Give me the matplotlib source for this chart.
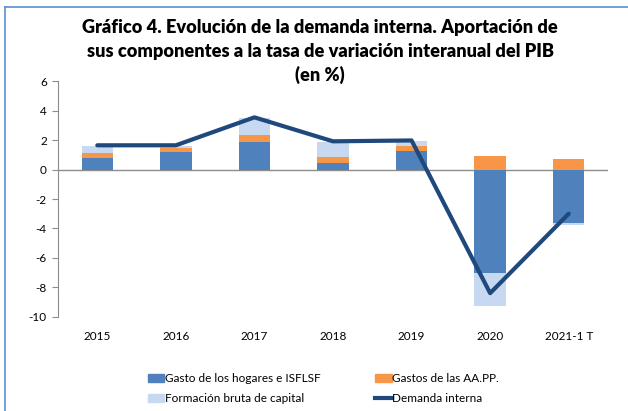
"""
Gráfico 4: aportación de los componentes de la demanda interna al PIB.
"""

import matplotlib.pyplot as plt
import numpy as np
from matplotlib.lines import Line2D
from matplotlib.patches import Patch

plt.rcParams["font.family"] = ["Lato", "DejaVu Sans"]
plt.rcParams["axes.unicode_minus"] = False

years = ["2015", "2016", "2017", "2018", "2019", "2020", "2021-1 T"]
hogares = [0.82, 1.20, 1.88, 0.43, 1.24, -7.03, -3.60]
aapp = [0.29, 0.30, 0.45, 0.41, 0.36, 0.90, 0.75]
fbc = [0.52, 0.13, 1.18, 1.04, 0.35, -2.27, -0.14]
demanda = [1.65, 1.65, 3.55, 1.92, 1.98, -8.40, -3.00]

c_blue = "#4F81BD"
c_orange = "#F79646"
c_light = "#C6D9F1"
c_line = "#1F497D"
c_grid = "#8C8C8C"

fig = plt.figure(figsize=(6.28, 4.11), dpi=100)
ax = fig.add_axes([58 / 628, 1 - 316.7 / 411, 550 / 628, 235.4 / 411])

x = np.arange(len(years))
w = 0.4

# stack positives and negatives separately, as the spreadsheet does
pos = np.zeros(len(years))
neg = np.zeros(len(years))
for vals, col in [(hogares, c_blue), (aapp, c_orange), (fbc, c_light)]:
    vals = np.array(vals)
    base = np.where(vals >= 0, pos, neg)
    ax.bar(x, vals, w, bottom=base, color=col, edgecolor="none", zorder=2)
    pos = pos + np.where(vals >= 0, vals, 0)
    neg = neg + np.where(vals < 0, vals, 0)

ax.axhline(0, color=c_grid, lw=1, zorder=1)
ax.plot(x, demanda, color=c_line, lw=3, solid_capstyle="round", zorder=3)

ax.set_xlim(-0.5, len(years) - 0.5)
ax.set_ylim(-10, 6)
ax.set_yticks(range(-10, 7, 2))
ax.set_xticks(x)
ax.set_xticklabels(years)
for s in ["top", "right", "bottom"]:
    ax.spines[s].set_visible(False)
ax.spines["left"].set_color(c_grid)
ax.tick_params(axis="y", length=4, color=c_grid, labelsize=8.5, pad=4)
ax.tick_params(axis="x", length=0, labelsize=8.5, pad=10)

title_lines = ["Gráfico 4. Evolución de la demanda interna. Aportación de",
               "sus componentes a la tasa de variación interanual del PIB",
               "(en %)"]
for i, line in enumerate(title_lines):
    fig.text(0.51, 1 - (27 + 24 * i) / 411, line,
             ha="center", va="center", fontsize=13.1, fontweight="heavy")

handles = [Patch(color=c_blue), Patch(color=c_light), Patch(color=c_orange),
           Line2D([0], [0], color=c_line, lw=3)]
labels = ["Gasto de los hogares e ISFLSF", "Formación bruta de capital",
          "Gastos de las AA.PP.", "Demanda interna"]
fig.legend(handles, labels, ncol=2, loc="center", bbox_to_anchor=(0.515, 0.054),
           frameon=False, fontsize=8.5, handlelength=1.4, handletextpad=0.05,
           columnspacing=4.6, labelspacing=0.75)

# chart border (only top and left edges visible in the crop)
fig.add_artist(Line2D([5 / 628, 5 / 628], [0, 1 - 7 / 411], color="#5B8FD0", lw=1.2))
fig.add_artist(Line2D([5 / 628, 1], [1 - 7 / 411, 1 - 7 / 411], color="#5B8FD0", lw=1.2))

plt.savefig("out.png", dpi=100)
